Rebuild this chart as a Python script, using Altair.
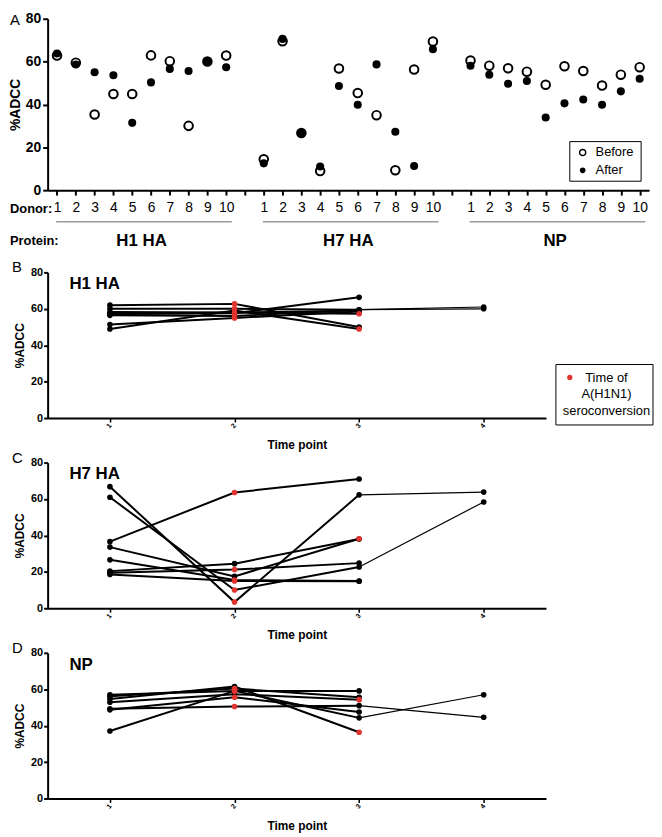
import altair as alt
import pandas as pd

FONT = "Liberation Sans"
RED = "#e2332f"

# ---------------- Panel A data ----------------
donors = list(range(1, 11))
proteins = ["H1 HA", "H7 HA", "NP"]
h1_before = [62.8, 59.5, 35.3, 44.9, 44.9, 62.9, 60.2, 30.0, 60.0, 62.8]
h1_after = [63.8, 58.6, 55.0, 53.6, 31.4, 50.3, 56.6, 55.6, 60.0, 57.4]
h7_before = [14.4, 69.5, 26.7, 8.9, 56.8, 45.3, 35.0, 9.3, 56.3, 69.4]
h7_after = [12.5, 70.6, 26.7, 11.0, 48.6, 39.9, 58.7, 27.3, 11.3, 65.8]
np_before = [60.5, 58.1, 56.9, 55.3, 49.2, 57.8, 55.6, 48.8, 53.9, 57.4]
np_after = [58.1, 53.9, 49.7, 50.9, 33.9, 40.5, 42.3, 39.9, 46.1, 52.0]
a_yticks = [0, 20, 40, 60, 80]

# ---------------- Panels B-D data (time points 1-4) ----------------
time_points = [1, 2, 3, 4]
# H1 HA
b_t1 = [62.0, 60.0, 58.2, 57.3, 56.4, 51.4, 48.9, 57.0]
b_t2 = [62.7, 60.0, 58.0, 57.5, 56.0, 55.0, 59.0, 58.0]
b_t3 = [50.0, 59.5, 57.3, 66.3, 59.5, 58.5, 48.9, 59.0]
b_t4 = [None, 61.0, None, None, 60.0, None, None, None]
b_sero = [2, 2, 3, 0, 2, 2, 3, 2]
# H7 HA
c_t1 = [36.6, 66.8, 61.0, 33.6, 26.6, 20.4, 19.5, 18.6]
c_t2 = [63.6, 3.4, 10.0, 17.5, 15.5, 24.5, 21.3, 15.0]
c_t3 = [71.0, 62.3, 22.7, 38.2, 15.0, 38.0, 24.8, 14.8]
c_t4 = [None, 63.8, 58.4, None, None, None, None, None]
c_sero = [2, 2, 2, 3, 2, 0, 2, 2]
# NP
d_t1 = [57.0, 56.1, 54.7, 52.9, 49.3, 48.7, 37.1]
d_t2 = [59.1, 60.4, 61.5, 57.3, 50.5, 55.6, 59.1]
d_t3 = [59.1, 55.6, 36.4, 54.3, 51.0, 47.5, 44.3]
d_t4 = [None, None, None, None, 44.6, None, 57.0]
d_sero = [2, 2, 3, 3, 2, 2, 2]


def one():
    return pd.DataFrame({"k": [0]})


def label(text, x, y, size=13, weight="normal", align="left", baseline="middle"):
    return alt.Chart(one()).mark_text(text=text, fontSize=size, fontWeight=weight, font=FONT,
                                      color="black", align=align, baseline=baseline).encode(
        x=alt.value(x), y=alt.value(y))


# ---------------- Panel A ----------------
WA, HA = 607, 173
a_before_all = [h1_before, h7_before, np_before]
a_after_all = [h1_after, h7_after, np_after]
rows = []
for pi, prot in enumerate(proteins):
    for di, d in enumerate(donors):
        pos = pi * 11 + d
        rows.append(dict(protein=prot, donor=d, pos=pos, status="Before", value=a_before_all[pi][di]))
        rows.append(dict(protein=prot, donor=d, pos=pos, status="After", value=a_after_all[pi][di]))
df_a = pd.DataFrame(rows)

xscale_a = alt.Scale(domain=[0.5, 32.5], nice=False, zero=False)
yscale_a = alt.Scale(domain=[0, 80], nice=False)
xaxis_a = alt.Axis(values=list(range(1, 33)),
                   labelExpr="datum.value % 11 == 0 ? '' : '' + ((datum.value - 1) % 11 + 1)",
                   labelFontSize=14, labelFont=FONT, labelColor="black",
                   tickSize=5, tickWidth=2, tickColor="black",
                   domainWidth=2, domainColor="black", grid=False,
                   labelPadding=6, labelFlush=False, labelOverlap=False, title=None)
yaxis_a = alt.Axis(values=a_yticks, labelFontSize=14, labelFontWeight="bold", labelFont=FONT,
                   labelColor="black", tickSize=5, tickWidth=2, tickColor="black",
                   domainWidth=2, domainColor="black", grid=False, labelPadding=2,
                   labelFlush=False, labelOverlap=False, title="%ADCC", titleFontSize=14,
                   titleFontWeight="bold", titleFont=FONT, titleColor="black", titlePadding=3)
xa = alt.X("pos:Q", scale=xscale_a, axis=xaxis_a, title=None)
ya = alt.Y("value:Q", scale=yscale_a, axis=yaxis_a, title="%ADCC")

before_layer = alt.Chart(df_a[df_a.status == "Before"]).mark_point(
    shape="circle", filled=True, fill="white", stroke="black", strokeWidth=2, size=75, opacity=1
).encode(x=xa, y=ya)
after_layer = alt.Chart(df_a[df_a.status == "After"]).mark_circle(
    color="black", size=66, opacity=1
).encode(x=xa, y=ya)

prot_df = pd.DataFrame({"protein": proteins,
                        "pos": [pi * 11 + 5.5 for pi in range(len(proteins))]})
rule_df = pd.DataFrame({"pos": [pi * 11 + 0.95 for pi in range(len(proteins))],
                        "pos_end": [pi * 11 + 10.3 for pi in range(len(proteins))]})
prot_text = alt.Chart(prot_df).mark_text(fontSize=17, fontWeight="bold", font=FONT, color="black",
                                         baseline="middle").encode(
    x=xa, y=alt.value(HA + 51), text="protein:N")
prot_rule = alt.Chart(rule_df).mark_rule(color="#9a9a9a", strokeWidth=1.5).encode(
    x=xa, x2="pos_end:Q", y=alt.value(HA + 32))

donor_lbl = label("Donor:", -38, HA + 19, size=13, weight="bold")
protein_lbl = label("Protein:", -38, HA + 51, size=13, weight="bold")

leg_a_box = alt.Chart(one()).mark_rect(fill="white", stroke="black", strokeWidth=1).encode(
    x=alt.value(527), x2=alt.value(599), y=alt.value(HA - 49), y2=alt.value(HA - 9))
leg_a_open = alt.Chart(one()).mark_point(
    shape="circle", filled=False, stroke="black", strokeWidth=1.5, size=38, opacity=1).encode(
    x=alt.value(540), y=alt.value(HA - 38))
leg_a_fill = alt.Chart(one()).mark_circle(color="black", size=32, opacity=1).encode(
    x=alt.value(540), y=alt.value(HA - 20))
leg_a_t1 = label("Before", 553, HA - 38)
leg_a_t2 = label("After", 553, HA - 20)

letter_a = label("A", -38, -6, size=15, baseline="top")
pin_a = alt.Chart(one()).mark_rule(opacity=0).encode(
    x=alt.value(-38), x2=alt.value(WA), y=alt.value(-7), y2=alt.value(HA + 71))

panel_a = alt.layer(before_layer, after_layer, prot_rule, prot_text, pin_a, donor_lbl, protein_lbl,
                    leg_a_box, leg_a_open, leg_a_fill, leg_a_t1, leg_a_t2, letter_a
                    ).properties(width=WA, height=HA)

# ---------------- Panels B-D ----------------
WB, HB = 503, 147


def long_df(series, sero):
    out = []
    n = len(series[0])
    for i in range(n):
        for t, arr in zip(time_points, series):
            v = arr[i]
            if v is None:
                continue
            out.append(dict(donor=i + 1, time=t, value=v, sero="yes" if sero[i] == t else "no"))
    return pd.DataFrame(out)


xs = alt.Scale(domain=[0.5, 4.5], nice=False, zero=False)
ys = alt.Scale(domain=[0, 80], nice=False)
xaxis_b = alt.Axis(values=time_points, format="d", labelAngle=310, labelFontSize=7,
                   labelFontWeight="bold", labelColor="black", labelFont=FONT,
                   tickSize=4, tickWidth=1.5, tickColor="black", domainWidth=2,
                   domainColor="black", grid=False, labelPadding=2, labelFlush=False,
                   labelOverlap=False,
                   title="Time point", titleFontSize=12, titleFontWeight="bold",
                   titleFont=FONT, titleColor="black", titlePadding=11)
yaxis_b = alt.Axis(values=[0, 20, 40, 60, 80], labelFontSize=11, labelFontWeight="bold",
                   labelColor="black", labelFont=FONT, tickSize=4, tickWidth=2,
                   tickColor="black", domainWidth=2, domainColor="black", grid=False,
                   labelPadding=1, labelFlush=False, labelOverlap=False,
                   title="%ADCC", titleFontSize=12,
                   titleFontWeight="bold", titleFont=FONT, titleColor="black",
                   titlePadding=4)
x_enc = alt.X("time:Q", scale=xs, axis=xaxis_b, title="Time point")
y_enc = alt.Y("value:Q", scale=ys, axis=yaxis_b, title="%ADCC")


def make_panel(letter, title, series, sero, legend=False):
    df = long_df(series, sero)
    has4 = set(df[df.time == 4].donor)
    thick = df[df.time <= 3]
    thin = df[(df.time >= 3) & (df.donor.isin(has4))]
    pts = df.sort_values("sero")

    thick_l = alt.Chart(thick).mark_line(color="black", strokeWidth=2).encode(
        x=x_enc, y=y_enc, detail="donor:N")
    thin_l = alt.Chart(thin).mark_line(color="black", strokeWidth=1.2).encode(
        x=x_enc, y=y_enc, detail="donor:N")
    pts_l = alt.Chart(pts).mark_circle(size=32, opacity=1).encode(
        x=x_enc, y=y_enc,
        color=alt.Color("sero:N", scale=alt.Scale(domain=["no", "yes"], range=["black", RED]), legend=None))
    title_l = label(title, 22, 12, size=17, weight="bold")
    letter_l = label(letter, -36, 0, size=15, baseline="alphabetic")
    pin = alt.Chart(one()).mark_rule(opacity=0).encode(
        x=alt.value(-36), x2=alt.value(WB), y=alt.value(-9), y2=alt.value(HB + 32))
    layers = [thick_l, thin_l, pts_l, pin, title_l, letter_l]
    if legend:
        box = alt.Chart(one()).mark_rect(fill="white", stroke="black", strokeWidth=1).encode(
            x=alt.value(513), x2=alt.value(611), y=alt.value(93), y2=alt.value(154))
        dot = alt.Chart(one()).mark_circle(color=RED, size=28, opacity=1).encode(
            x=alt.value(527), y=alt.value(106))
        layers += [box, dot,
                   label("Time of", 564, 107, align="center"),
                   label("A(H1N1)", 564, 123, align="center"),
                   label("seroconversion", 564, 140, align="center")]
    return alt.layer(*layers).properties(width=WB, height=HB)


panel_b = make_panel("B", "H1 HA", [b_t1, b_t2, b_t3, b_t4], b_sero, legend=True)
panel_c = make_panel("C", "H7 HA", [c_t1, c_t2, c_t3, c_t4], c_sero)
panel_d = make_panel("D", "NP", [d_t1, d_t2, d_t3, d_t4], d_sero)

chart = alt.vconcat(panel_a, panel_b, panel_c, panel_d, spacing=0).properties(
    padding=0
).configure(font=FONT).configure_view(stroke=None).configure_axis(labelOverlap=False, labelFlush=False)

chart.save("out.html", embed_options={"renderer": "svg", "actions": False})
